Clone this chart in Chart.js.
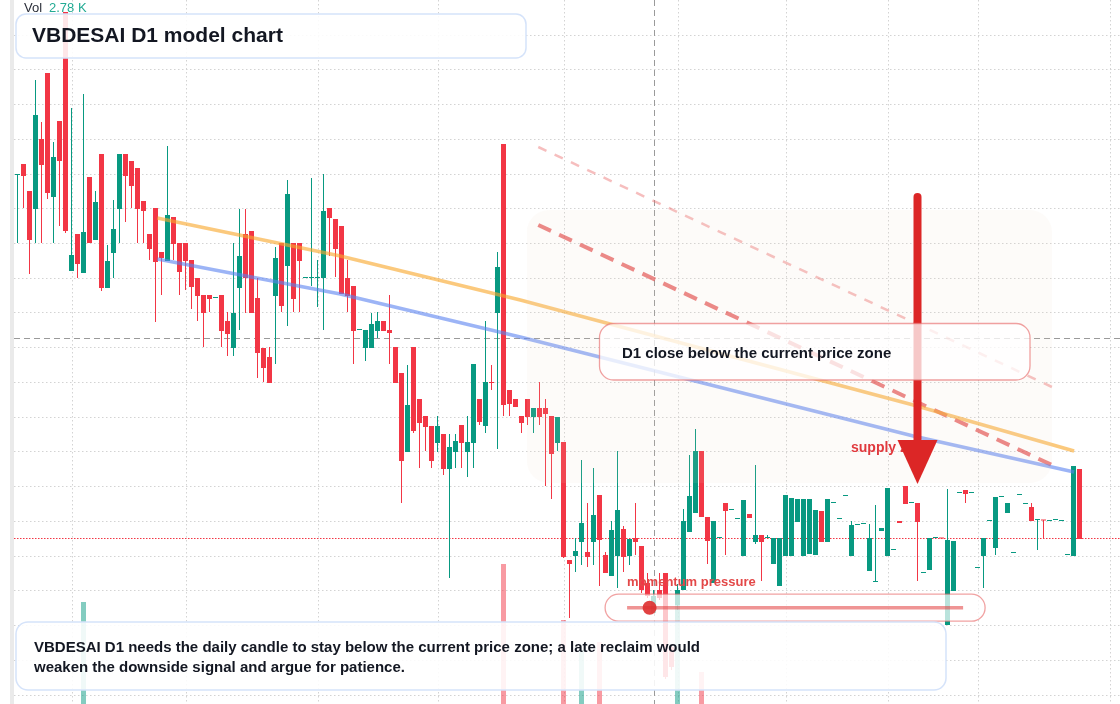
<!DOCTYPE html>
<html><head><meta charset="utf-8">
<script src="https://cdn.jsdelivr.net/npm/chart.js@4.4.1/dist/chart.umd.min.js"></script>
<style>html,body{margin:0;padding:0;background:#fff;overflow:hidden}canvas{display:block}</style>
</head><body>
<canvas id="c" width="1120" height="704"></canvas>
<script>
// ---- candle data (daily OHLC, arbitrary price units) ----
const opens = [52.9,54.0,51.3,49.5,56.5,63.1,50.7,58.3,69.2,43.3,47.0,43.1,52.7,46.4,55.0,41.6,45.1,49.5,55.0,54.3,
53.6,50.3,47.0,49.6,45.2,44.3,48.7,46.1,46.1,44.4,42.6,40.9,40.9,40.6,40.9,38.3,35.6,41.6,47.0,47.3,
40.6,35.6,34.7,40.8,46.1,43.8,46.1,46.1,42.6,42.6,42.6,42.6,49.6,48.5,47.8,42.6,41.8,37.4,35.6,35.6,
37.3,38.3,37.4,35.7,33.1,25.2,35.7,30.5,28.8,27.8,26.1,27.0,23.5,25.2,27.9,25.2,26.1,30.5,27.8,32.2,
39.1,56.0,31.4,30.5,28.8,30.5,28.7,29.6,29.6,28.8,26.1,26.2,14.4,14.8,16.2,15.2,16.2,20.9,14.9,12.8,
14.8,17.5,14.8,16.6,15.8,12.1,9.1,11.4,13.1,5.7,9.9,11.4,17.2,19.1,25.3,18.7,12.1,16.6,20.1,19.4,
18.5,14.8,19.0,16.2,16.9,16.6,14.0,11.8,14.8,14.8,18.2,14.8,15.0,14.9,19.3,16.2,20.1,18.5,20.8,14.8,
17.9,18.0,13.3,12.2,17.3,14.8,15.4,18.3,21.8,20.1,20.1,13.1,13.4,16.6,16.6,7.9,11.3,21.1,21.4,21.1,
13.6,14.8,18.3,15.6,20.7,19.1,15.1,20.9,20.0,19.7,18.4,18.4,18.3,18.4,18.3,14.9,14.8,23.5];
const highs = [52.9,54.0,51.3,62.4,58.2,63.1,56.2,58.3,69.2,59.6,47.0,61.0,52.7,51.3,55.0,45.9,50.4,55.0,55.0,54.3,
53.6,50.3,47.0,49.6,45.2,55.8,48.7,46.1,46.1,44.4,42.6,40.9,40.9,40.6,40.9,39.2,46.1,49.5,49.5,47.3,
42.6,35.6,35.7,45.7,46.1,52.4,46.1,46.1,42.6,52.6,44.4,53.0,49.6,48.5,47.8,44.4,41.8,37.4,37.4,39.1,
39.2,38.3,40.9,35.7,33.1,33.9,35.7,30.5,28.8,27.8,28.8,27.0,27.0,27.0,27.9,28.8,34.0,30.5,38.3,33.9,
45.2,56.0,31.4,30.5,28.8,30.5,29.6,32.2,30.5,28.8,28.7,26.2,14.4,16.6,24.4,20.1,23.6,20.9,15.2,18.3,
25.3,17.8,16.5,20.1,15.8,13.1,11.4,13.1,13.1,5.9,12.0,19.5,24.9,27.5,25.3,18.7,18.3,16.6,20.1,19.4,
18.5,20.4,19.0,23.9,16.9,16.9,16.6,16.6,20.9,20.6,20.5,20.5,20.5,19.4,19.3,20.5,20.1,18.5,20.8,18.3,
17.9,18.0,18.0,19.9,17.6,21.6,15.4,18.3,21.8,20.1,20.1,13.1,16.6,16.6,16.6,21.5,16.3,21.1,21.4,21.1,
13.6,16.6,18.3,20.7,20.7,20.1,15.1,20.9,20.0,20.1,18.4,18.4,18.3,18.4,18.3,14.9,23.8,23.5];
const lows = [46.1,49.6,43.0,46.1,46.1,50.5,46.1,47.8,47.1,43.3,42.6,43.1,46.1,46.4,41.3,41.6,42.6,46.1,48.2,49.6,
46.1,46.1,44.4,38.2,40.9,44.3,44.4,40.9,41.4,39.5,38.3,35.7,39.2,40.6,35.7,34.8,34.8,37.4,39.1,39.1,
32.6,32.2,32.1,34.0,39.2,37.8,39.2,39.2,42.6,41.8,39.7,37.4,44.8,42.7,41.0,39.2,34.0,37.4,34.3,35.6,
36.6,37.3,34.0,32.1,20.1,25.2,27.1,23.6,25.3,23.6,25.2,22.9,12.6,23.6,23.6,22.7,23.6,27.9,27.1,31.4,
25.5,28.8,28.8,29.7,27.1,27.9,27.1,27.9,21.8,20.5,25.3,14.6,8.6,13.2,13.9,13.7,13.9,11.8,13.1,12.8,
11.6,13.2,13.9,14.9,11.1,10.6,9.1,10.4,2.5,3.4,9.4,11.4,17.2,19.1,18.7,14.0,12.1,16.6,14.9,19.4,
18.5,14.8,18.6,16.0,12.3,16.6,14.0,11.8,14.8,14.8,18.2,14.8,15.0,14.9,16.2,16.2,20.1,18.5,20.8,14.8,
17.9,18.0,13.3,12.2,17.3,14.8,15.4,18.1,20.0,20.1,12.3,13.1,13.4,16.6,16.55,7.9,11.3,21.1,20.1,21.1,
13.6,11.6,18.3,14.9,20.7,19.1,15.1,20.9,20.0,18.3,15.4,16.6,18.3,18.4,18.3,14.9,14.8,16.5];
const closes = [52.9,52.8,46.4,58.9,53.9,51.1,54.7,54.3,47.3,44.9,44.0,47.2,46.1,50.2,41.6,44.3,47.5,55.0,52.8,51.8,
49.5,49.3,45.5,44.2,44.6,48.9,46.0,43.2,44.3,41.7,40.8,39.1,40.5,40.6,37.3,37.0,39.1,44.8,42.6,39.1,
35.1,33.6,32.1,44.6,39.8,51.0,40.5,44.3,42.6,42.6,42.6,49.3,48.6,45.5,41.0,40.8,37.3,37.4,37.4,38.0,
38.3,37.3,37.1,32.1,24.3,29.9,27.3,28.1,27.7,24.3,27.8,23.5,25.7,26.3,26.1,26.2,34.0,28.2,32.2,32.1,
43.7,29.9,30.0,29.7,28.1,28.7,29.6,28.7,29.0,25.0,28.7,14.7,14.0,15.3,18.1,14.7,18.9,16.4,13.1,17.4,
19.4,14.7,16.5,16.2,11.4,10.8,10.8,10.6,2.7,3.7,11.4,18.3,20.8,25.3,18.7,16.3,18.3,16.6,19.3,19.4,
18.5,20.4,18.6,16.9,16.2,16.6,16.6,16.6,20.9,20.6,20.5,20.5,20.5,19.4,16.2,20.5,20.1,18.5,20.8,17.9,
17.9,18.0,16.6,12.3,17.6,21.6,15.4,18.1,20.0,20.1,18.2,13.1,16.6,16.6,16.55,16.4,16.3,21.1,21.0,21.1,
13.6,16.6,18.3,20.7,20.7,20.1,15.1,20.9,20.0,18.3,18.4,18.35,18.3,18.4,18.3,14.9,23.8,16.5];

// ---- volume (thousands), only bars tall enough to be visible ----
const volumeIdx = [11, 81, 91, 94, 97, 110, 114];
const volumeK   = [102, 140, 84, 54, 62, 99, 32];
const lastVolumeText = '2.78 K';

// ---- trend lines (bar index, price) ----
const orangeIdx   = [23.3, 53.8, 83.8, 149.3, 176.1];
const orangePrice = [48.6, 44.8, 40.4, 29.9, 25.3];
const blueIdx     = [23.3, 53.8, 83.8, 149.3, 176.1];
const bluePrice   = [44.5, 41.0, 36.7, 26.8, 23.2];
const redDashIdx   = [86.8, 172.4];
const redDashPrice = [47.9, 23.9];
const pinkDashIdx   = [86.8, 172.4];
const pinkDashPrice = [55.7, 31.7];

// ---- reference levels / annotations ----
const currentPrice = 16.57;
const crosshairIdx = 106;
const crosshairPrice = 36.6;
const gridIdx = [9, 28, 50, 70, 91, 110, 128, 145, 160, 182];
const zoneIdx = [84.9, 172.4];
const zonePrice = [49.4, 22.1];
const arrowIdx = 150;
const arrowPrice = [50.7, 22.0];
const momentumIdx = [101.6, 157.6];
const momentumDotIdx = 105.35;
const momentumPrice = 9.63;

const UP = '#089981', DOWN = '#f23645';
const idx = opens.map((_, i) => i);
const isUp = idx.map(i => closes[i] >= opens[i]);

const wickData = idx.map(i => ({x: i, y: [lows[i], highs[i]]}));
const bodyData = idx.map(i => ({x: i, y: [Math.min(opens[i], closes[i]), Math.max(opens[i], closes[i])]}));
const volData = volumeIdx.map((k, j) => ({x: k, y: volumeK[j]}));
const pts = (xs, ys) => xs.map((x, j) => ({x, y: ys[j]}));

function rr(ctx, x, y, w, h, r) {
  ctx.beginPath();
  ctx.moveTo(x + r, y);
  ctx.lineTo(x + w - r, y); ctx.arcTo(x + w, y, x + w, y + r, r);
  ctx.lineTo(x + w, y + h - r); ctx.arcTo(x + w, y + h, x + w - r, y + h, r);
  ctx.lineTo(x + r, y + h); ctx.arcTo(x, y + h, x, y + h - r, r);
  ctx.lineTo(x, y + r); ctx.arcTo(x, y, x + r, y, r);
  ctx.closePath();
}
const FONT = '"Liberation Sans", Arial, Helvetica, sans-serif';

const decor = {
  id: 'decor',
  beforeDatasetsDraw(chart) {
    const {ctx, scales: {x, y}} = chart;
    const W = chart.width, H = chart.height;
    ctx.save();
    ctx.fillStyle = '#ffffff'; ctx.fillRect(0, 0, W, H);
    ctx.fillStyle = '#eaeaea'; ctx.fillRect(10, 0, 4, H);
    // grid
    ctx.strokeStyle = '#d3d3d3'; ctx.lineWidth = 1; ctx.setLineDash([1.5, 2.5]);
    for (let p = 70.42 - 3.474; p > 0; p -= 3.474) {
      const py = Math.round(y.getPixelForValue(p)) + 0.5;
      ctx.beginPath(); ctx.moveTo(14, py); ctx.lineTo(W, py); ctx.stroke();
    }
    gridIdx.forEach(g => {
      const px = Math.round(x.getPixelForValue(g)) + 0.5;
      ctx.beginPath(); ctx.moveTo(px, 0); ctx.lineTo(px, H); ctx.stroke();
    });
    // crosshair
    ctx.strokeStyle = '#9a9a9a'; ctx.setLineDash([6, 4]);
    let cy = Math.round(y.getPixelForValue(crosshairPrice)) + 0.5;
    ctx.beginPath(); ctx.moveTo(14, cy); ctx.lineTo(W, cy); ctx.stroke();
    let cx = Math.round(x.getPixelForValue(crosshairIdx)) + 0.5;
    ctx.beginPath(); ctx.moveTo(cx, 0); ctx.lineTo(cx, H); ctx.stroke();
    // current price
    ctx.strokeStyle = '#f23645'; ctx.setLineDash([1.5, 1.5]);
    let py = Math.round(y.getPixelForValue(currentPrice)) + 0.5;
    ctx.beginPath(); ctx.moveTo(14, py); ctx.lineTo(W, py); ctx.stroke();
    ctx.restore();
  },
  afterDatasetsDraw(chart) {
    const {ctx, scales: {x, y}} = chart;
    ctx.save();
    // supply zone shading
    const zx0 = x.getPixelForValue(zoneIdx[0]), zx1 = x.getPixelForValue(zoneIdx[1]);
    const zy0 = y.getPixelForValue(zonePrice[0]), zy1 = y.getPixelForValue(zonePrice[1]);
    rr(ctx, zx0, zy0, zx1 - zx0, zy1 - zy0, 22);
    ctx.fillStyle = 'rgba(240,215,200,0.1)'; ctx.fill();
    // supply zone label
    ctx.fillStyle = '#e0393e'; ctx.font = 'bold 14px ' + FONT; ctx.textBaseline = 'middle';
    ctx.fillText('supply zone', 851, 448);
    // arrow
    const ax = x.getPixelForValue(arrowIdx);
    const ay0 = y.getPixelForValue(arrowPrice[0]), ay1 = y.getPixelForValue(arrowPrice[1]);
    ctx.strokeStyle = '#dc2626'; ctx.fillStyle = '#dc2626'; ctx.lineWidth = 8; ctx.lineCap = 'round';
    ctx.beginPath(); ctx.moveTo(ax, ay0); ctx.lineTo(ax, ay1 - 40); ctx.stroke();
    ctx.beginPath(); ctx.moveTo(ax - 20, ay1 - 44); ctx.lineTo(ax + 20, ay1 - 44); ctx.lineTo(ax, ay1); ctx.closePath(); ctx.fill();
    ctx.lineCap = 'butt';
    // callout box
    rr(ctx, 599.5, 323.5, 430.5, 56.5, 14);
    ctx.fillStyle = 'rgba(255,255,255,0.75)'; ctx.fill();
    ctx.strokeStyle = 'rgba(232,110,110,0.65)'; ctx.lineWidth = 1.3; ctx.stroke();
    ctx.fillStyle = '#131722'; ctx.font = 'bold 15px ' + FONT;
    ctx.fillText('D1 close below the current price zone', 622, 354);
    // momentum pressure
    const mx0 = x.getPixelForValue(momentumIdx[0]), mx1 = x.getPixelForValue(momentumIdx[1]);
    const my = y.getPixelForValue(momentumPrice);
    rr(ctx, mx0 - 22, my - 13.5, mx1 - mx0 + 44, 27, 13.5);
    ctx.fillStyle = 'rgba(255,255,255,0.72)'; ctx.fill();
    ctx.strokeStyle = 'rgba(232,100,100,0.6)'; ctx.lineWidth = 1.3; ctx.stroke();
    ctx.strokeStyle = 'rgba(225,60,60,0.55)'; ctx.lineWidth = 3.5;
    ctx.beginPath(); ctx.moveTo(mx0, my); ctx.lineTo(mx1, my); ctx.stroke();
    ctx.fillStyle = 'rgba(222,45,45,0.9)';
    ctx.beginPath(); ctx.arc(x.getPixelForValue(momentumDotIdx), my, 7, 0, Math.PI * 2); ctx.fill();
    ctx.fillStyle = '#e34848'; ctx.font = 'bold 13px ' + FONT;
    ctx.fillText('momentum pressure', mx0, my - 25.5);
    // title box
    rr(ctx, 16, 14, 510, 44, 10);
    ctx.fillStyle = 'rgba(255,255,255,0.88)'; ctx.fill();
    ctx.strokeStyle = '#d5e3fa'; ctx.lineWidth = 1.5; ctx.stroke();
    ctx.fillStyle = '#131722'; ctx.font = 'bold 21px ' + FONT;
    ctx.fillText('VBDESAI D1 model chart', 32, 36.5);
    // caption box
    rr(ctx, 16, 622, 930, 68, 12);
    ctx.fillStyle = 'rgba(255,255,255,0.88)'; ctx.fill();
    ctx.strokeStyle = '#d5e3fa'; ctx.lineWidth = 1.5; ctx.stroke();
    ctx.fillStyle = '#131722'; ctx.font = 'bold 15px ' + FONT;
    ctx.fillText('VBDESAI D1 needs the daily candle to stay below the current price zone; a late reclaim would', 34, 647.5);
    ctx.fillText('weaken the downside signal and argue for patience.', 34, 667.5);
    // volume legend
    ctx.font = '13px ' + FONT;
    ctx.fillStyle = '#2a2e39'; ctx.fillText('Vol', 24, 8.5);
    ctx.fillStyle = '#22ab94'; ctx.fillText(lastVolumeText, 49, 8.5);
    ctx.restore();
  }
};

new Chart(document.getElementById('c'), {
  type: 'bar',
  data: {
    datasets: [
      {type: 'line', data: pts(orangeIdx, orangePrice), borderColor: 'rgba(248,168,45,0.62)', borderWidth: 3.5, pointRadius: 0, tension: 0, order: 0, yAxisID: 'y'},
      {type: 'line', data: pts(blueIdx, bluePrice), borderColor: 'rgba(90,130,240,0.6)', borderWidth: 3.5, pointRadius: 0, tension: 0, order: 0, yAxisID: 'y'},
      {type: 'line', data: pts(redDashIdx, redDashPrice), borderColor: 'rgba(225,60,60,0.65)', borderWidth: 4, borderDash: [14, 9], pointRadius: 0, order: 0, yAxisID: 'y'},
      {type: 'line', data: pts(pinkDashIdx, pinkDashPrice), borderColor: 'rgba(235,110,110,0.45)', borderWidth: 2.5, borderDash: [9, 9], pointRadius: 0, order: 0, yAxisID: 'y'},
      {data: bodyData, backgroundColor: idx.map(i => isUp[i] ? UP : DOWN), barThickness: 5, minBarLength: 1, grouped: false, inflateAmount: 0, order: 2, yAxisID: 'y'},
      {data: wickData, backgroundColor: idx.map(i => isUp[i] ? UP : DOWN), barThickness: 1, grouped: false, inflateAmount: 0, order: 3, yAxisID: 'y'},
      {data: volData, backgroundColor: volumeIdx.map(k => isUp[k] ? 'rgba(8,153,129,0.5)' : 'rgba(242,54,69,0.5)'), barThickness: 5, grouped: false, inflateAmount: 0, order: 5, yAxisID: 'yv'}
    ]
  },
  options: {
    responsive: false, animation: false, devicePixelRatio: 1,
    layout: {padding: 0},
    plugins: {legend: {display: false}, tooltip: {enabled: false}},
    scales: {
      x: {type: 'linear', display: false, offset: false, min: -17.5 / 6, max: -17.5 / 6 + 1120 / 6},
      y: {type: 'linear', display: false, min: 0, max: 70.4},
      yv: {type: 'linear', display: false, min: 0, max: 704}
    }
  },
  plugins: [decor]
});
</script>
</body></html>
